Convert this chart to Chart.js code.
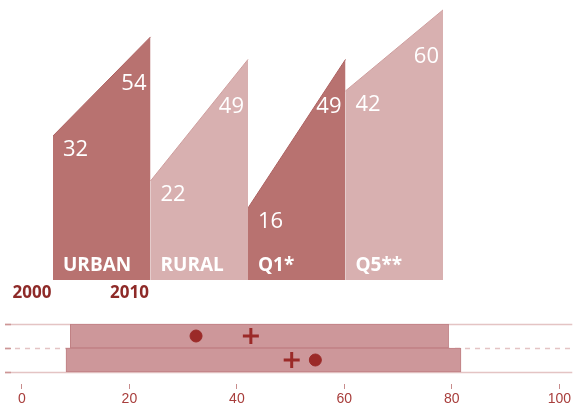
<!DOCTYPE html>
<html>
<head>
<meta charset="utf-8">
<script src="https://cdn.jsdelivr.net/npm/chart.js@4/dist/chart.umd.min.js"></script>
<style>
  body { margin: 0; background: #fff; }
  canvas { display: block; }
</style>
</head>
<body>
<canvas id="slopes" width="573" height="300"></canvas>
<canvas id="ranges" width="573" height="105"></canvas>
<script>
// ===== Data =====
const groups = ['URBAN', 'RURAL', 'Q1*', 'Q5**'];
const years = ['2000', '2010'];
const values2000 = [32, 22, 16, 42];
const values2010 = [54, 49, 49, 60];
const darkShade = [true, false, true, false];

const rows = [1, 2];
const barFrom = [9, 8.2];
const barTo = [79.4, 81.7];
const dotValues = [32.4, 54.6];
const plusValues = [42.6, 50.2];
const axisTicks = [0, 20, 40, 60, 80, 100];

const DARK = 'rgb(184, 114, 112)';
const LIGHT = 'rgb(216, 176, 176)';
const RED = 'rgb(142, 42, 40)';

// ===== Top: filled slopes =====
const slopeLabels = {
    id: 'slopeLabels',
    afterDatasetsDraw(chart) {
        const ctx = chart.ctx;
        const xs = chart.scales.x, ys = chart.scales.y;
        ctx.save();
        ctx.textBaseline = 'middle';
        groups.forEach((g, i) => {
            const x0 = xs.getPixelForValue(i);
            const x1 = xs.getPixelForValue(i + 1);
            ctx.fillStyle = '#fff';
            ctx.font = '22px "Open Sans"';
            ctx.textAlign = 'left';
            ctx.fillText(String(values2000[i]), x0 + 10, ys.getPixelForValue(values2000[i]) + 14);
            ctx.textAlign = 'right';
            ctx.fillText(String(values2010[i]), x1 - 4, ys.getPixelForValue(values2010[i]) + 47);
            ctx.textAlign = 'left';
            ctx.font = 'bold 19px "Open Sans"';
            ctx.fillText(g, x0 + 10, ys.getPixelForValue(0) - 14);
        });
        ctx.fillStyle = RED;
        ctx.font = 'bold 17px "Open Sans"';
        ctx.textAlign = 'center';
        years.forEach((y, i) => {
            ctx.fillText(y, xs.getPixelForValue(i) - 21, ys.getPixelForValue(0) + 13);
        });
        ctx.restore();
    }
};

new Chart(document.getElementById('slopes'), {
    type: 'line',
    data: {
        datasets: groups.map((g, i) => ({
            label: g,
            data: [{ x: i, y: values2000[i] }, { x: i + 1, y: values2010[i] }],
            fill: 'origin',
            backgroundColor: darkShade[i] ? DARK : LIGHT,
            borderColor: darkShade[i] ? 'rgb(172, 96, 96)' : 'rgb(206, 158, 158)',
            borderWidth: 1,
            pointRadius: 0,
            tension: 0
        }))
    },
    options: {
        responsive: false,
        animation: false,
        layout: { autoPadding: false, padding: { left: 53, right: 130, top: 0, bottom: 20 } },
        plugins: { legend: { display: false }, tooltip: { enabled: false } },
        scales: {
            x: { type: 'linear', min: 0, max: 4, display: false },
            y: { min: 0, max: 62.2, display: false }
        }
    },
    plugins: [slopeLabels]
});

// ===== Bottom: ranges with markers =====
const rowLines = {
    id: 'rowLines',
    beforeDatasetsDraw(chart) {
        const ctx = chart.ctx;
        const { left, right } = chart.chartArea;
        const ys = chart.scales.y;
        ctx.save();
        [0.5, 1.5, 2.5].forEach((v, i) => {
            const y = Math.round(ys.getPixelForValue(v)) + 0.5;
            ctx.strokeStyle = 'rgb(228, 196, 196)';
            ctx.lineWidth = 1.5;
            ctx.setLineDash(i === 1 ? [5, 5] : []);
            ctx.beginPath();
            ctx.moveTo(left, y);
            ctx.lineTo(right + 2, y);
            ctx.stroke();
            ctx.setLineDash([]);
            ctx.strokeStyle = 'rgb(205, 150, 150)';
            ctx.beginPath();
            ctx.moveTo(left, y);
            ctx.lineTo(left + 6, y);
            ctx.stroke();
        });
        ctx.restore();
    }
};

new Chart(document.getElementById('ranges'), {
    type: 'bar',
    data: {
        datasets: [{
            type: 'bar',
            data: rows.map((r, i) => ({ y: r, x: [barFrom[i], barTo[i]] })),
            backgroundColor: 'rgb(205, 151, 154)',
            borderColor: 'rgb(192, 128, 132)',
            borderWidth: 1,
            borderSkipped: false,
            barPercentage: 1,
            categoryPercentage: 1,
            order: 2
        }, {
            type: 'line',
            showLine: false,
            data: rows.map((r, i) => ({ x: dotValues[i], y: r })),
            pointStyle: 'circle',
            pointRadius: 6,
            pointBackgroundColor: 'rgb(155, 42, 40)',
            pointBorderColor: 'rgb(155, 42, 40)',
            order: 1
        }, {
            type: 'line',
            showLine: false,
            data: rows.map((r, i) => ({ x: plusValues[i], y: r })),
            pointStyle: 'cross',
            pointRadius: 8,
            pointBorderWidth: 3,
            pointBorderColor: 'rgb(155, 42, 40)',
            order: 1
        }]
    },
    options: {
        responsive: false,
        animation: false,
        indexAxis: 'y',
        layout: { autoPadding: false, padding: { left: 5, right: 0, top: 24, bottom: 0 } },
        plugins: { legend: { display: false }, tooltip: { enabled: false } },
        scales: {
            y: {
                type: 'linear', min: 0.5, max: 3, reverse: true, display: false,
                offset: false, grid: { offset: false },
                afterBuildTicks: (scale) => { scale.ticks = rows.map(v => ({ value: v })); }
            },
            x: {
                type: 'linear',
                min: -3.15,
                max: 102.04,
                afterBuildTicks: (scale) => { scale.ticks = axisTicks.map(v => ({ value: v })); },
                afterFit: (scale) => { scale.height = 21; },
                grid: { drawOnChartArea: false, tickLength: 5, color: 'rgb(200, 140, 140)' },
                border: { display: false },
                ticks: {
                    color: 'rgb(168, 62, 60)',
                    font: { family: 'Liberation Sans', size: 14 },
                    padding: 2,
                    maxRotation: 0
                }
            }
        }
    },
    plugins: [rowLines]
});
</script>
</body>
</html>
